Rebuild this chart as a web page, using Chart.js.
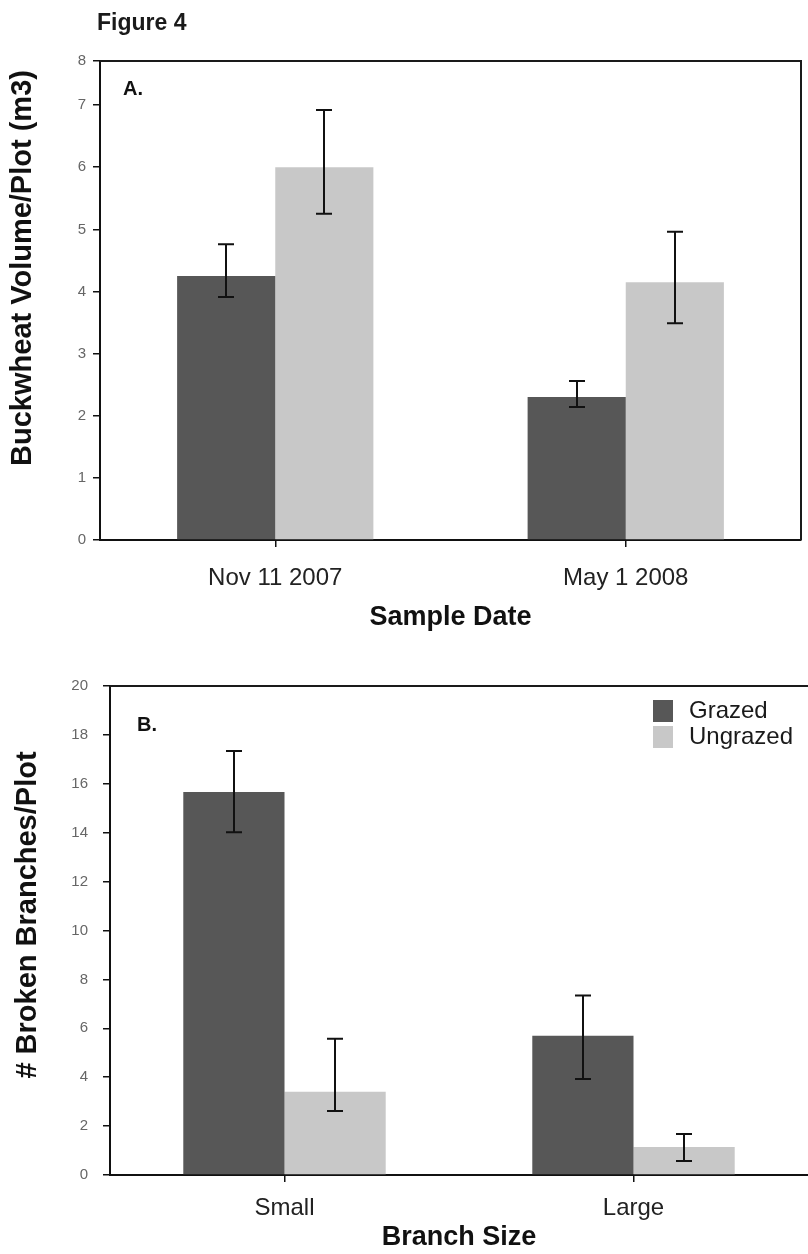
<!DOCTYPE html>
<html>
<head>
<meta charset="utf-8">
<title>Figure 4</title>
<script src="https://cdn.jsdelivr.net/npm/chart.js@4"></script>
<style>
  body { margin: 0; background: #fff; }
  #page { position: relative; width: 808px; height: 1254px; overflow: hidden; }
  #figTitle {
    position: absolute; left: 97px; top: 11px;
    font: bold 23px/23px "Liberation Sans", Arial, sans-serif; color: #1a1a1a;
  }
  #chartA { position: absolute; left: 0; top: 0; }
  #chartB { position: absolute; left: 0; top: 650px; }
</style>
</head>
<body>
<div id="page">
  <canvas id="chartA" width="808" height="650"></canvas>
  <canvas id="chartB" width="808" height="604"></canvas>
  <div id="figTitle">Figure 4</div>
</div>
<script>
const FONT = '"Liberation Sans", Arial, sans-serif';

const seriesNames = ['Grazed', 'Ungrazed'];
const seriesColors = ['#575757', '#c8c8c8'];

// Panel A: buckwheat volume per plot
const datesA = ['Nov 11 2007', 'May 1 2008'];
const grazedA = [4.25, 2.30];
const grazedHiA = [4.76, 2.56];
const grazedLoA = [3.91, 2.14];
const ungrazedA = [6.0, 4.15];
const ungrazedHiA = [6.92, 4.96];
const ungrazedLoA = [5.25, 3.49];
const yTickValuesA = [0, 1, 2, 3, 4, 5, 6, 7, 7.71];
const yTickLabelsA = ['0', '1', '2', '3', '4', '5', '6', '7', '8'];

// Panel B: broken branches per plot
const sizesB = ['Small', 'Large'];
const grazedB = [15.66, 5.70];
const grazedHiB = [17.34, 7.34];
const grazedLoB = [14.02, 3.93];
const ungrazedB = [3.40, 1.15];
const ungrazedHiB = [5.57, 1.68];
const ungrazedLoB = [2.62, 0.57];

Chart.defaults.font.family = FONT;

const errorBars = {
  id: 'errorBars',
  afterDatasetsDraw(chart) {
    const { ctx } = chart;
    const y = chart.scales.y;
    const cap = 16;
    ctx.save();
    ctx.strokeStyle = '#111';
    ctx.lineWidth = 2;
    chart.data.datasets.forEach((ds, i) => {
      chart.getDatasetMeta(i).data.forEach((bar, j) => {
        const x = Math.round(bar.x);
        const top = y.getPixelForValue(ds.errHi[j]);
        const bot = y.getPixelForValue(ds.errLo[j]);
        ctx.beginPath();
        ctx.moveTo(x, top); ctx.lineTo(x, bot);
        ctx.moveTo(x - cap / 2, top); ctx.lineTo(x + cap / 2, top);
        ctx.moveTo(x - cap / 2, bot); ctx.lineTo(x + cap / 2, bot);
        ctx.stroke();
      });
    });
    ctx.restore();
  }
};

const panelDecor = {
  id: 'panelDecor',
  afterDraw(chart, args, opts) {
    const { ctx, chartArea: a } = chart;
    ctx.save();
    ctx.strokeStyle = '#1a1a1a';
    ctx.lineWidth = 2;
    ctx.beginPath();
    ctx.moveTo(a.left, a.top);
    ctx.lineTo(a.right, a.top);
    if (opts.rightBorder) ctx.lineTo(a.right, a.bottom);
    ctx.stroke();

    ctx.fillStyle = '#111';
    ctx.textBaseline = 'middle';
    ctx.textAlign = 'left';
    ctx.font = 'bold 20px ' + FONT;
    ctx.fillText(opts.letter, opts.letterX, opts.letterY);

    ctx.save();
    ctx.translate(opts.yTitleX, opts.yTitleY);
    ctx.rotate(-Math.PI / 2);
    ctx.textAlign = 'center';
    ctx.font = 'bold 29px ' + FONT;
    ctx.fillText(opts.yTitle, 0, 0);
    ctx.restore();

    if (opts.legend) {
      const { x, y, box, gap } = opts.legend;
      ctx.font = '24px ' + FONT;
      seriesNames.forEach((name, i) => {
        const top = y + i * gap;
        ctx.fillStyle = seriesColors[i];
        ctx.fillRect(x, top, box, box + 2);
        ctx.fillStyle = '#1a1a1a';
        ctx.fillText(name, x + box + 16, top + box / 2 + 1);
      });
    }
    ctx.restore();
  }
};

function makeChart(id, setup) {
  return new Chart(document.getElementById(id), {
    type: 'bar',
    data: {
      labels: setup.labels,
      datasets: [
        { label: seriesNames[0], data: setup.grazed, errHi: setup.grazedHi, errLo: setup.grazedLo,
          backgroundColor: seriesColors[0], borderWidth: 0, categoryPercentage: setup.catPct, barPercentage: 1 },
        { label: seriesNames[1], data: setup.ungrazed, errHi: setup.ungrazedHi, errLo: setup.ungrazedLo,
          backgroundColor: seriesColors[1], borderWidth: 0, categoryPercentage: setup.catPct, barPercentage: 1 }
      ]
    },
    options: {
      responsive: false,
      animation: false,
      layout: { padding: setup.padding },
      plugins: {
        legend: { display: false },
        tooltip: { enabled: false },
        panelDecor: setup.decor
      },
      scales: {
        x: {
          offset: true,
          grid: { drawOnChartArea: false, drawTicks: true, tickLength: 7, offset: false, color: '#111', lineWidth: 1.5 },
          border: { display: true, color: '#111', width: 2 },
          ticks: { color: '#222', font: { size: 24 }, padding: setup.xTickPad, maxRotation: 0, autoSkip: false },
          title: { display: true, text: setup.xTitle, color: '#111', font: { size: 27, weight: 'bold' },
                   padding: { top: 0, bottom: setup.xTitlePad } },
          afterFit: (s) => { s.height = setup.xHeight; }
        },
        y: {
          min: 0,
          max: setup.yMax,
          grid: { drawOnChartArea: false, drawTicks: true, tickLength: 7, color: '#111', lineWidth: 1.5 },
          border: { display: true, color: '#111', width: 2 },
          ticks: Object.assign({ color: '#666', font: { size: 15 }, padding: setup.yTickPad }, setup.yTicks),
          afterBuildTicks: setup.yBuild,
          afterFit: (s) => { s.width = setup.yWidth; }
        }
      }
    },
    plugins: [errorBars, panelDecor]
  });
}

makeChart('chartA', {
  labels: datesA,
  grazed: grazedA, grazedHi: grazedHiA, grazedLo: grazedLoA,
  ungrazed: ungrazedA, ungrazedHi: ungrazedHiA, ungrazedLo: ungrazedLoA,
  catPct: 0.56,
  padding: { left: 0, right: 7, top: 61, bottom: 0 },
  xTitle: 'Sample Date', xTickPad: 17, xTitlePad: 16, xHeight: 110,
  yMax: yTickValuesA[yTickValuesA.length - 1],
  yTicks: { callback: (v, i) => yTickLabelsA[i] },
  yBuild: (s) => { s.ticks = yTickValuesA.map((v) => ({ value: v })); },
  yTickPad: 7, yWidth: 100,
  decor: { rightBorder: true, letter: 'A.', letterX: 123, letterY: 89,
           yTitle: 'Buckwheat Volume/Plot (m3)', yTitleX: 23, yTitleY: 268 }
});

makeChart('chartB', {
  labels: sizesB,
  grazed: grazedB, grazedHi: grazedHiB, grazedLo: grazedLoB,
  ungrazed: ungrazedB, ungrazedHi: ungrazedHiB, ungrazedLo: ungrazedLoB,
  catPct: 0.58,
  padding: { left: 0, right: 0, top: 36, bottom: 0 },
  xTitle: 'Branch Size', xTickPad: 12, xTitlePad: 0, xHeight: 79,
  yMax: 20,
  yTicks: { stepSize: 2 },
  yBuild: undefined,
  yTickPad: 15, yWidth: 110,
  decor: { rightBorder: false, letter: 'B.', letterX: 137, letterY: 75,
           yTitle: '# Broken Branches/Plot', yTitleX: 28, yTitleY: 265,
           legend: { x: 653, y: 50, box: 20, gap: 26 } }
});
</script>
</body>
</html>
